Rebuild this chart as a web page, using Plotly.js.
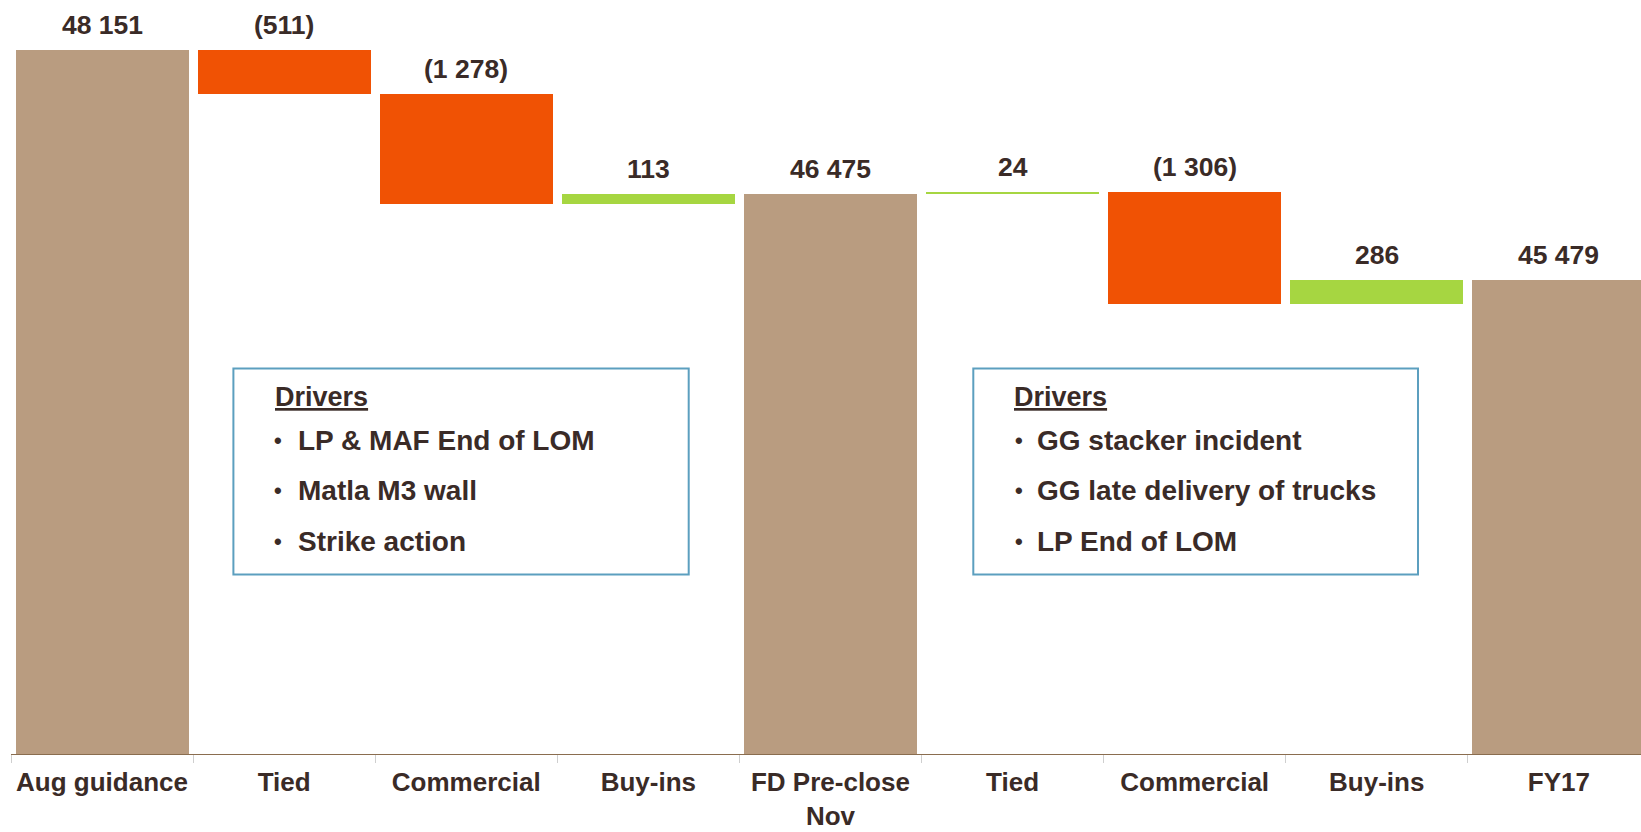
<!DOCTYPE html>
<html>
<head>
<meta charset="utf-8">
<script src="https://cdn.plot.ly/plotly-3.0.1.min.js"></script>
<style>
  html, body { margin: 0; padding: 0; background: #ffffff; overflow: hidden; }
  #chart { width: 1641px; height: 832px; }
</style>
</head>
<body>
<div id="chart"></div>
<script>
// ---- Data ----
const categories = ["Aug guidance", "Tied", "Commercial", "Buy-ins", "FD Pre-close<br>Nov", "Tied", "Commercial", "Buy-ins", "FY17"];
const measures   = ["total", "delta", "delta", "delta", "total", "delta", "delta", "delta", "total"];
const values     = [48151, -511, -1278, 113, 46475, 24, -1306, 286, 45479];
const axisRange  = [39965, 48730];
const driversTitle = "Drivers";
const driversLeft  = ["LP & MAF End of LOM", "Matla M3 wall", "Strike action"];
const driversRight = ["GG stacker incident", "GG late delivery of trucks", "LP End of LOM"];

// ---- Styling ----
const TAN = "#b99c80", ORANGE = "#f05204", GREEN = "#a6d641";
const TEXT = "#3a2b27";
const FONT = "Liberation Sans, Arial, sans-serif";
const W = 1641, H = 832;
const M = { l: 11, r: 0, t: 0, b: 78 };
const plotW = W - M.l - M.r, plotH = H - M.t - M.b;
const catW = 182.1;
const px = x => (x - M.l) / plotW;
const py = y => 1 - (y - M.t) / plotH;

function fmt(v) {
  const s = Math.abs(v).toString().replace(/\B(?=(\d{3})+(?!\d))/g, " ");
  return v < 0 ? "(" + s + ")" : s;
}

// ---- Build bars ----
const xs = categories.map((_, i) => i);
const bases = [], heights = [], colors = [], tops = [];
let running = 0;
values.forEach((v, i) => {
  if (measures[i] === "total") {
    bases.push(0); heights.push(v); colors.push(TAN); tops.push(v);
    running = v;
  } else {
    bases.push(running); heights.push(v); colors.push(v < 0 ? ORANGE : GREEN);
    tops.push(Math.max(running, running + v));
    running += v;
  }
});

const trace = {
  type: "bar",
  x: xs, y: heights, base: bases,
  width: 0.95,
  marker: { color: colors, line: { width: 0 } },
  hoverinfo: "skip",
  showlegend: false
};

const annotations = values.map((v, i) => ({
  x: i, y: tops[i], xref: "x", yref: "y",
  text: fmt(v), showarrow: false, yanchor: "bottom", yshift: 8,
  font: { family: FONT, size: 26.5, color: TEXT, weight: "bold" }
}));

function driverBox(x0, x1, y0, y1, titleX, bulletX, textX, items) {
  const rows = [397.0, 440.6, 490.9, 541.1];
  annotations.push({
    xref: "paper", yref: "paper", x: px(titleX), y: py(rows[0]),
    xanchor: "left", yanchor: "middle", showarrow: false,
    text: "<u>" + driversTitle + "</u>",
    font: { family: FONT, size: 27, color: TEXT, weight: "bold" }
  });
  items.forEach((t, k) => {
    annotations.push({
      xref: "paper", yref: "paper", x: px(bulletX), y: py(rows[k + 1]),
      xanchor: "center", yanchor: "middle", showarrow: false, text: "•",
      font: { family: FONT, size: 22, color: TEXT, weight: "bold" }
    });
    annotations.push({
      xref: "paper", yref: "paper", x: px(textX), y: py(rows[k + 1]),
      xanchor: "left", yanchor: "middle", showarrow: false, text: t,
      font: { family: FONT, size: 28, color: TEXT, weight: "bold" }
    });
  });
  return {
    type: "rect", xref: "paper", yref: "paper",
    x0: px(x0), x1: px(x1), y0: py(y1), y1: py(y0),
    line: { color: "#5c9fbf", width: 2 }, fillcolor: "rgba(255,255,255,0)"
  };
}

const shapes = [
  driverBox(233.4, 688.7, 368.4, 574.6, 273.2, 277.5, 296.0, driversLeft),
  driverBox(973.3, 1418.0, 368.4, 574.6, 1012.0, 1018.5, 1035.0, driversRight)
];

const layout = {
  width: W, height: H,
  margin: M,
  paper_bgcolor: "#ffffff", plot_bgcolor: "#ffffff",
  font: { family: FONT, color: TEXT },
  bargap: 0,
  xaxis: {
    range: [-0.5, -0.5 + plotW / catW],
    tickmode: "array", tickvals: xs, ticktext: categories,
    ticks: "", showgrid: false, zeroline: false,
    showline: true, linecolor: "#8a6d4f", linewidth: 1,
    tickfont: { family: FONT, size: 26, color: TEXT, weight: "bold" },
    ticklabelstandoff: 5,
    minor: { tickmode: "linear", tick0: 0.5, dtick: 1, ticks: "outside", ticklen: 8, tickcolor: "#cfcfcf", tickwidth: 1, showgrid: false },
    fixedrange: true
  },
  yaxis: {
    range: axisRange,
    visible: false, showgrid: false, zeroline: false, fixedrange: true
  },
  annotations: annotations,
  shapes: shapes
};

Plotly.newPlot("chart", [trace], layout, { displayModeBar: false, staticPlot: true });
</script>
</body>
</html>
